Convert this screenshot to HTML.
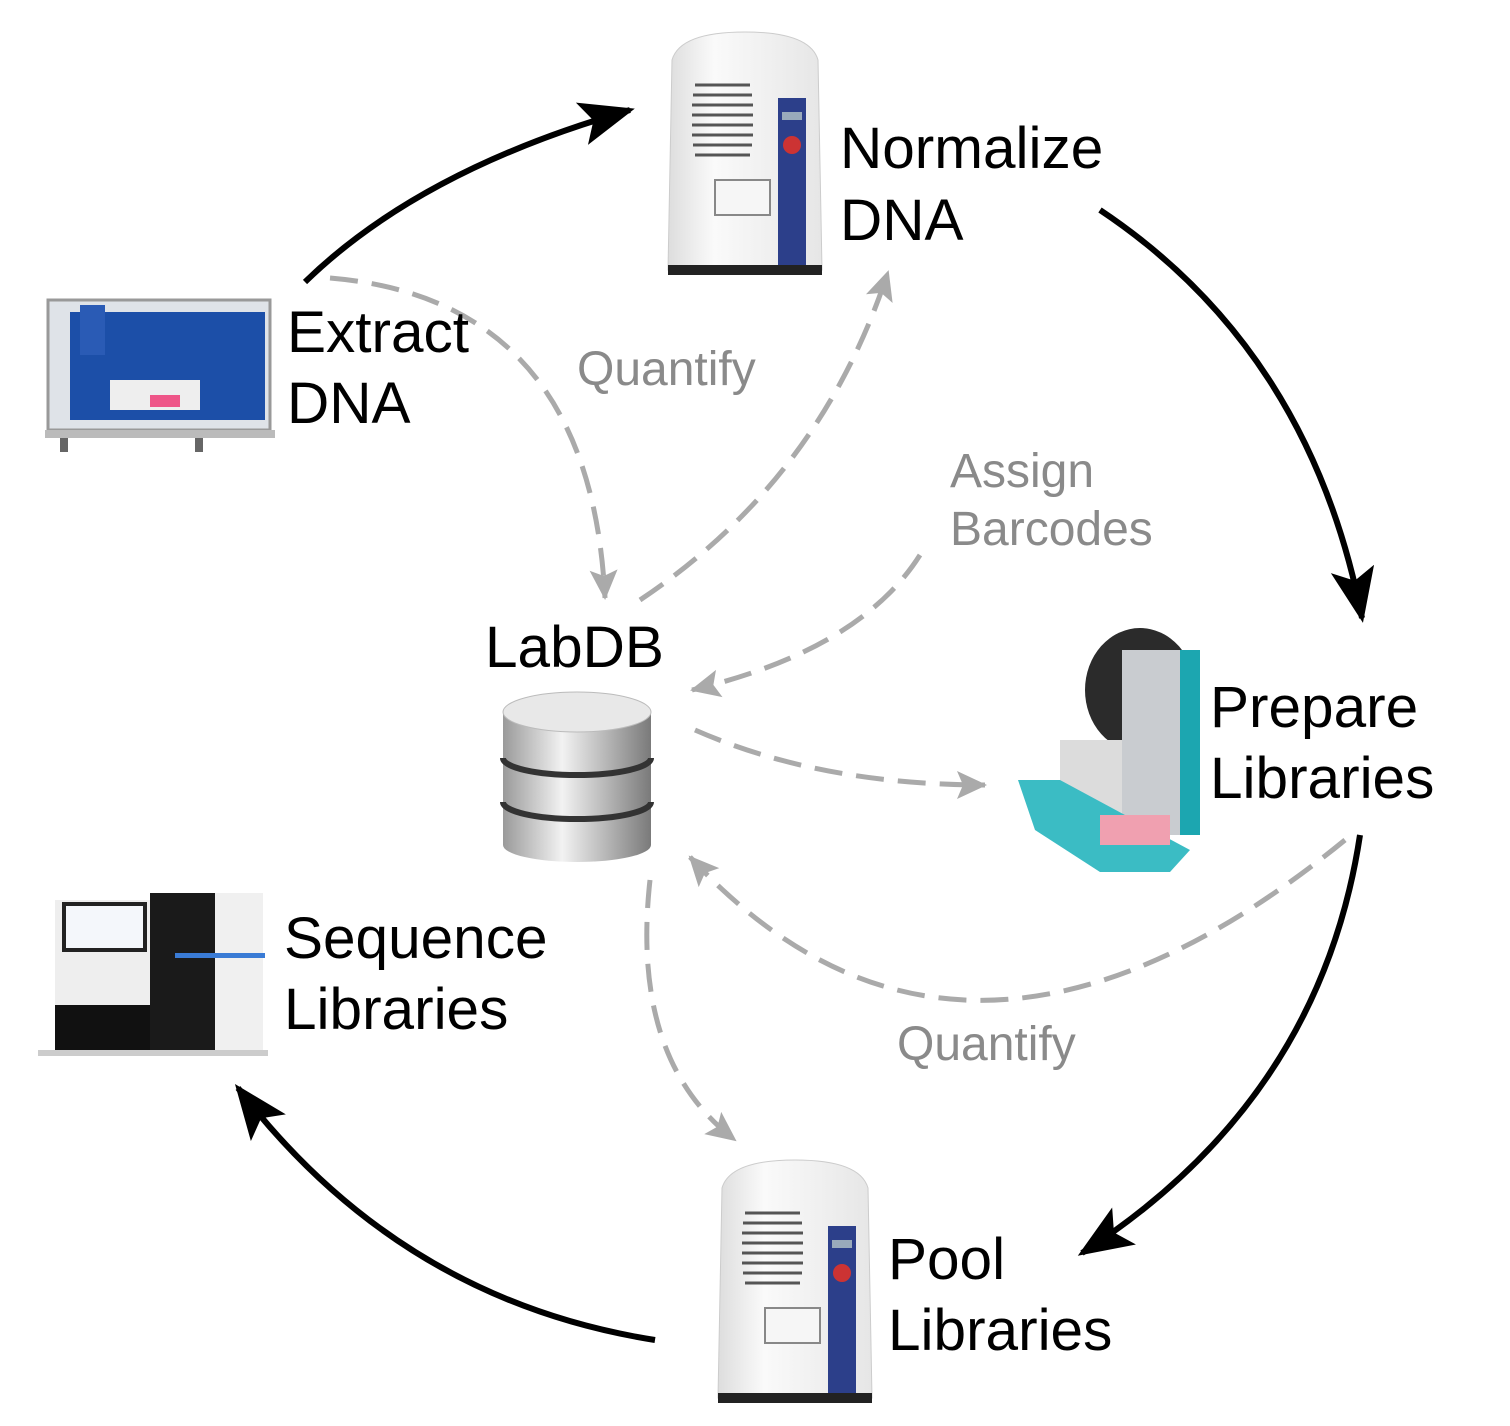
<!DOCTYPE html>
<html><head><meta charset="utf-8"><style>
html,body{margin:0;padding:0;background:#fff;}
svg{display:block;}
.lbl{font-family:"Liberation Sans",sans-serif;font-size:58.5px;fill:#000;}
.g{font-family:"Liberation Sans",sans-serif;font-size:48px;fill:#8a8a8a;}
</style></head><body>
<svg width="1510" height="1426" viewBox="0 0 1510 1426" xmlns="http://www.w3.org/2000/svg">
<defs>
<marker id="ba" markerUnits="userSpaceOnUse" markerWidth="60" markerHeight="50" refX="50" refY="22" orient="auto">
<path d="M0,0 L55,22 L0,44 L12,22 Z" fill="#000"/>
</marker>
<marker id="ga" markerUnits="userSpaceOnUse" markerWidth="40" markerHeight="40" refX="30" refY="16" orient="auto">
<path d="M2,2 L32,16 L2,30 L8,16 Z" fill="#aaa"/>
</marker>
<linearGradient id="cyl" x1="0" x2="1"><stop offset="0" stop-color="#9a9a9a"/><stop offset="0.4" stop-color="#f2f2f2"/><stop offset="1" stop-color="#7a7a7a"/></linearGradient>
<linearGradient id="dev" x1="0" x2="1"><stop offset="0" stop-color="#ddd"/><stop offset="0.3" stop-color="#fafafa"/><stop offset="1" stop-color="#e6e6e6"/></linearGradient>
</defs>

<path d="M305,282 Q420,170 630,110" fill="none" stroke="#000" stroke-width="6" marker-end="url(#ba)"/>
<path d="M1100,210 Q1310,350 1362,618" fill="none" stroke="#000" stroke-width="6" marker-end="url(#ba)"/>
<path d="M1360,835 Q1320,1100 1082,1253" fill="none" stroke="#000" stroke-width="6" marker-end="url(#ba)"/>
<path d="M655,1340 Q400,1300 238,1088" fill="none" stroke="#000" stroke-width="6" marker-end="url(#ba)"/>

<g fill="none" stroke="#aaa" stroke-width="5" stroke-dasharray="28 14">
<path d="M330,278 Q590,300 605,598" marker-end="url(#ga)"/>
<path d="M640,600 Q820,480 888,272" marker-end="url(#ga)"/>
<path d="M920,555 Q860,650 692,690" marker-end="url(#ga)"/>
<path d="M695,730 Q820,785 985,785" marker-end="url(#ga)"/>
<path d="M1345,840 Q962,1152 690,857" marker-end="url(#ga)"/>
<path d="M650,880 Q630,1060 735,1140" marker-end="url(#ga)"/>
</g>

<g id="dv">
<path d="M672,60 Q680,32 745,32 Q810,32 818,60 L822,270 L668,270 Z" fill="url(#dev)" stroke="#ccc"/>
<rect x="778" y="98" width="28" height="170" fill="#2c3f8a"/>
<circle cx="792" cy="145" r="9" fill="#c33"/>
<rect x="782" y="112" width="20" height="8" fill="#9ab"/>
<g stroke="#555" stroke-width="3"><line x1="695" y1="85" x2="750" y2="85"/><line x1="693" y1="95" x2="752" y2="95"/><line x1="692" y1="105" x2="753" y2="105"/><line x1="692" y1="115" x2="753" y2="115"/><line x1="692" y1="125" x2="753" y2="125"/><line x1="692" y1="135" x2="753" y2="135"/><line x1="693" y1="145" x2="752" y2="145"/><line x1="695" y1="155" x2="750" y2="155"/></g>
<rect x="715" y="180" width="55" height="35" fill="#f6f6f6" stroke="#888" stroke-width="2"/>
<rect x="668" y="265" width="154" height="10" fill="#222"/>
</g>
<g transform="translate(50,1128)">
<path d="M672,60 Q680,32 745,32 Q810,32 818,60 L822,270 L668,270 Z" fill="url(#dev)" stroke="#ccc"/>
<rect x="778" y="98" width="28" height="170" fill="#2c3f8a"/>
<circle cx="792" cy="145" r="9" fill="#c33"/>
<rect x="782" y="112" width="20" height="8" fill="#9ab"/>
<g stroke="#555" stroke-width="3"><line x1="695" y1="85" x2="750" y2="85"/><line x1="693" y1="95" x2="752" y2="95"/><line x1="692" y1="105" x2="753" y2="105"/><line x1="692" y1="115" x2="753" y2="115"/><line x1="692" y1="125" x2="753" y2="125"/><line x1="692" y1="135" x2="753" y2="135"/><line x1="693" y1="145" x2="752" y2="145"/><line x1="695" y1="155" x2="750" y2="155"/></g>
<rect x="715" y="180" width="55" height="35" fill="#f6f6f6" stroke="#888" stroke-width="2"/>
<rect x="668" y="265" width="154" height="10" fill="#222"/>
</g>

<g>
<rect x="48" y="300" width="222" height="130" fill="#dfe3e8" stroke="#999" stroke-width="3"/>
<rect x="70" y="312" width="195" height="108" fill="#1c4fa8"/>
<rect x="110" y="380" width="90" height="30" fill="#eee"/>
<rect x="150" y="395" width="30" height="12" fill="#e58"/>
<rect x="80" y="305" width="25" height="50" fill="#2a5bb5"/>
<rect x="45" y="430" width="230" height="8" fill="#bbb"/>
<rect x="60" y="438" width="8" height="14" fill="#666"/><rect x="195" y="438" width="8" height="14" fill="#666"/>
</g>

<g>
<ellipse cx="1140" cy="690" rx="55" ry="62" fill="#2b2b2b"/>
<rect x="1122" y="650" width="78" height="185" fill="#c9ccd0"/>
<rect x="1180" y="650" width="20" height="185" fill="#1ca6b0"/>
<rect x="1060" y="740" width="62" height="80" fill="#dcdcdc"/>
<path d="M1018,780 L1060,780 L1190,850 L1170,872 L1100,872 L1035,830 Z" fill="#3bbcc4"/>
<rect x="1100" y="815" width="70" height="30" fill="#f0a0b0"/>
</g>

<g>
<rect x="55" y="900" width="95" height="150" fill="#eee"/>
<rect x="62" y="902" width="85" height="50" fill="#222"/>
<rect x="66" y="906" width="77" height="42" fill="#f4f7fb"/>
<rect x="55" y="1005" width="95" height="45" fill="#111"/>
<rect x="150" y="893" width="65" height="160" fill="#1a1a1a"/>
<rect x="215" y="893" width="48" height="160" fill="#f0f0f0"/>
<rect x="175" y="953" width="90" height="5" fill="#3a7bd5"/>
<rect x="38" y="1050" width="230" height="6" fill="#ccc"/>
</g>

<g>
<path d="M503,712 L503,845 A74,17 0 0 0 651,845 L651,712 Z" fill="url(#cyl)"/>
<ellipse cx="577" cy="712" rx="74" ry="20" fill="#e8e8e8" stroke="#bbb"/>
<path d="M503,758 A74,17 0 0 0 651,758" fill="none" stroke="#333" stroke-width="6"/>
<path d="M503,802 A74,17 0 0 0 651,802" fill="none" stroke="#333" stroke-width="6"/>
</g>

<text class="lbl" x="840" y="168">Normalize</text>
<text class="lbl" x="840" y="240">DNA</text>
<text class="lbl" x="287" y="352">Extract</text>
<text class="lbl" x="287" y="423">DNA</text>
<text class="lbl" x="485" y="667">LabDB</text>
<text class="lbl" x="1210" y="727">Prepare</text>
<text class="lbl" x="1210" y="798">Libraries</text>
<text class="lbl" x="284" y="958">Sequence</text>
<text class="lbl" x="284" y="1029">Libraries</text>
<text class="lbl" x="888" y="1279">Pool</text>
<text class="lbl" x="888" y="1350">Libraries</text>

<text class="g" x="577" y="385">Quantify</text>
<text class="g" x="950" y="487">Assign</text>
<text class="g" x="950" y="545">Barcodes</text>
<text class="g" x="897" y="1060">Quantify</text>
</svg>
</body></html>
